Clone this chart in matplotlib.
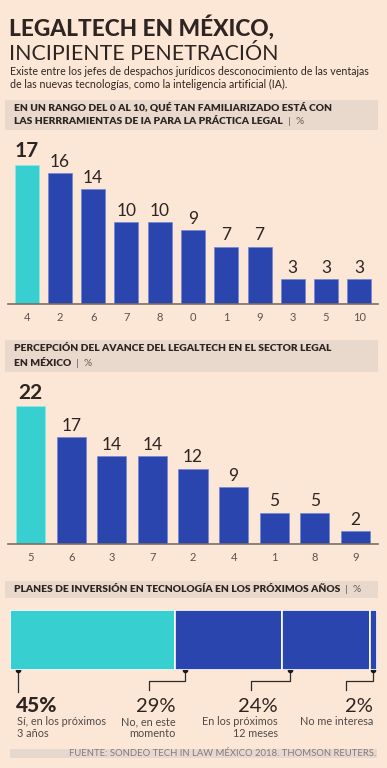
import matplotlib
matplotlib.use("Agg")
import matplotlib.pyplot as plt
from matplotlib.patches import Rectangle
import numpy as np

plt.rcParams['font.family'] = ['Lato', 'DejaVu Sans']

# ---------------- data ----------------
c1_labels = ["4", "2", "6", "7", "8", "0", "1", "9", "3", "5", "10"]
c1_values = [17, 16, 14, 10, 10, 9, 7, 7, 3, 3, 3]

c2_labels = ["5", "6", "3", "7", "2", "4", "1", "8", "9"]
c2_values = [22, 17, 14, 14, 12, 9, 5, 5, 2]

c3_values = [45, 29, 24, 2]
c3_labels = ["Sí, en los próximos\n3 años", "No, en este\nmomento",
             "En los próximos\n12 meses", "No me interesa"]

title1 = "LEGALTECH EN MÉXICO,"
title2 = "INCIPIENTE PENETRACIÓN"
subtitle = ("Existe entre los jefes de despachos jurídicos desconocimiento de las ventajas\n"
            "de las nuevas tecnologías, como la inteligencia artificial (IA).")
head1 = ["EN UN RANGO DEL 0 AL 10, QUÉ TAN FAMILIARIZADO ESTÁ CON",
         "LAS HERRRAMIENTAS DE IA PARA LA PRÁCTICA LEGAL"]
head2 = ["PERCEPCIÓN DEL AVANCE DEL LEGALTECH EN EL SECTOR LEGAL",
         "EN MÉXICO"]
head3 = ["PLANES DE INVERSIÓN EN TECNOLOGÍA EN LOS PRÓXIMOS AÑOS"]
source = "FUENTE: SONDEO TECH IN LAW MÉXICO 2018. THOMSON REUTERS."

# ---------------- style ----------------
W, H = 387, 768
BG = "#FCE7D7"
BOX = "#E9D8CC"
CYAN = "#38CFD0"
BLUE = "#2A45AE"
DARK = "#2E2522"
GRAY = "#4F4A48"

fig = plt.figure(figsize=(W / 100, H / 100), dpi=100, facecolor=BG)


def rect(x0, y0, x1, y1):
    return [x0 / W, 1 - y1 / H, (x1 - x0) / W, (y1 - y0) / H]


# overlay in pixel coordinates
ov = fig.add_axes([0, 0, 1, 1], zorder=0)
ov.set_xlim(0, W)
ov.set_ylim(H, 0)
ov.axis("off")
ov.patch.set_alpha(0)

ov.text(9, 36, title1, fontsize=16.3, fontweight="black", color=DARK, va="baseline")
ov.text(9, 60, title2, fontsize=15.4, fontweight="normal", color=DARK, va="baseline")
ov.text(10, 66, subtitle, fontsize=7.7, color=DARK, va="top", linespacing=1.25)


def header(y0, y1, lines):
    ov.add_patch(Rectangle((5, y0), 373, y1 - y0, color=BOX, lw=0))
    n = len(lines)
    for i, ln in enumerate(lines):
        yy = y0 + (y1 - y0) * (i + 0.5) / n + (1 if n > 1 else 0) * (0.5 if i == 0 else -0.5)
        t = ov.text(14, yy, ln, fontsize=7.4, fontweight="heavy", color=DARK, va="center")
        if i == n - 1:
            ov.annotate("  |  %", xy=(1, 0.5), xycoords=t, va="center", ha="left",
                        fontsize=7.3, color="#6a605c")


header(100, 130, head1)
header(340, 372, head2)
header(581, 598, head3)


# ---------------- column charts ----------------
def column_chart(axrect, labels, values, ymax, big, small):
    ax = fig.add_axes(axrect, zorder=2)
    ax.patch.set_alpha(0)
    x = np.arange(len(values))
    colors = [CYAN] + [BLUE] * (len(values) - 1)
    edges = ["#8FE6E6"] + ["#6F86D8"] * (len(values) - 1)
    ax.bar(x, values, width=0.72, color=colors, edgecolor=edges, linewidth=0.5)
    for i, v in enumerate(values):
        if i == 0:
            ax.text(i, v + ymax * 0.02, str(v), ha="center", va="bottom",
                    fontsize=big, fontweight="bold", color=DARK)
        else:
            ax.text(i, v + ymax * 0.02, str(v), ha="center", va="bottom",
                    fontsize=small, color=DARK)
    ax.set_xlim(-0.56, len(values) - 0.44)
    ax.set_ylim(0, ymax)
    ax.set_xticks(x)
    ax.set_xticklabels(labels, fontsize=8, color="#5a5350")
    ax.tick_params(axis="x", length=0, pad=6)
    ax.set_yticks([])
    for s in ["top", "right", "left"]:
        ax.spines[s].set_visible(False)
    ax.spines["bottom"].set_color("#7a6e68")
    ax.spines["bottom"].set_linewidth(1.2)
    return ax


column_chart(rect(8, 145, 378, 304), c1_labels, c1_values, 19.4, 15, 12.5)
column_chart(rect(8, 385, 378, 544), c2_labels, c2_values, 25.3, 15, 12.5)

# ---------------- chart 3: stacked bar ----------------
ax3 = fig.add_axes(rect(10, 610, 377, 670), zorder=2)
ax3.patch.set_alpha(0)
lefts = np.concatenate([[0], np.cumsum(c3_values)[:-1]])
cols3 = [CYAN, BLUE, BLUE, BLUE]
ax3.barh([0], c3_values, left=lefts, height=1.0, color=cols3, edgecolor="white",
         linewidth=1.2)
ax3.set_xlim(0, 100)
ax3.set_ylim(-0.5, 0.5)
ax3.axis("off")


def to_px(x, y):
    X, Y = ax3.transData.transform((x, y))
    return X, H - Y


dot_offsets = [2.2, 2.8, 2.2, 1.0]
label_right = [None, 0.2, -1.0, 0.9]
for i, (v, l) in enumerate(zip(c3_values, lefts)):
    dx, dy = to_px(l + dot_offsets[i], -0.5)
    ov.plot([dx], [dy], "o", ms=3, color="#1a1a1a", zorder=5)
    if i == 0:
        tx = dx - 2
        ov.plot([dx, dx], [dy, 692], color="#2b2b2b", lw=0.9)
        ov.text(tx, 712, f"{v}%", fontsize=15, fontweight="black", color=DARK,
                ha="left", va="baseline")
        ov.text(tx + 1, 716, c3_labels[i], fontsize=7.8, color=GRAY, ha="left",
                va="top", linespacing=1.15)
    else:
        rx, _ = to_px(l + label_right[i], 0)
        lx = rx - 27
        ov.plot([dx, dx, lx, lx], [dy, 681, 681, 690], color="#2b2b2b", lw=0.9)
        ov.text(rx, 712, f"{v}%", fontsize=14.5, fontweight="normal", color=DARK,
                ha="right", va="baseline")
        ov.text(rx, 716, c3_labels[i], fontsize=7.8, color=GRAY, ha="right",
                va="top", linespacing=1.15)

# ---------------- source ----------------
ov.add_patch(Rectangle((10, 749), 367, 9, color="#E6D8CE", lw=0))
ov.text(376, 753.5, source, fontsize=6.8, fontweight="normal", color="#857a75",
        ha="right", va="center")

fig.savefig("out.png", dpi=100, facecolor=BG)
